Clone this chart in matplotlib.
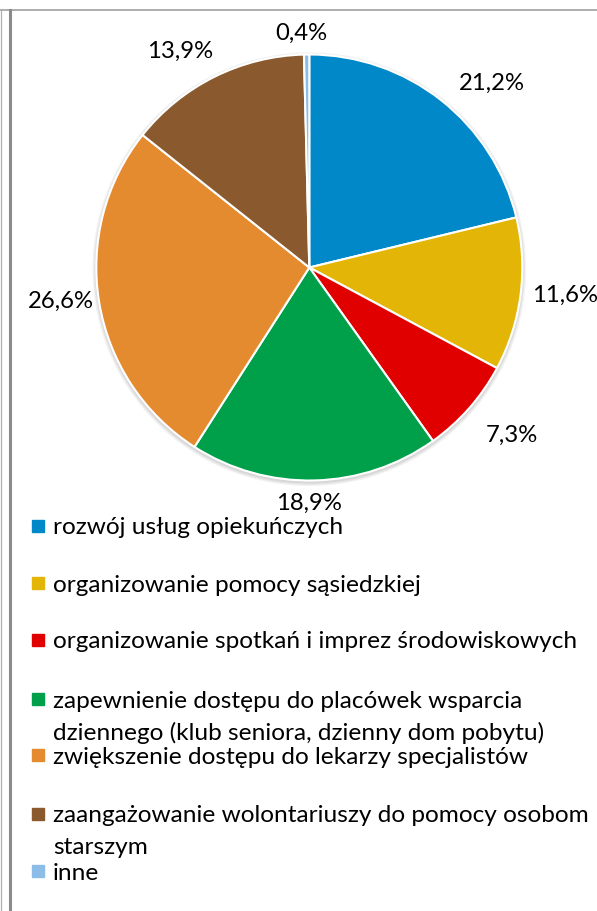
import matplotlib.pyplot as plt
from matplotlib.lines import Line2D
from matplotlib.patches import Rectangle, Circle

plt.rcParams["font.family"] = ["Lato", "DejaVu Sans"]

# ==============================
# Data
# ==============================

categories = [
    "rozwój usług opiekuńczych",
    "organizowanie pomocy sąsiedzkiej",
    "organizowanie spotkań i imprez środowiskowych",
    "zapewnienie dostępu do placówek wsparcia\ndziennego (klub seniora, dzienny dom pobytu)",
    "zwiększenie dostępu do lekarzy specjalistów",
    "zaangażowanie wolontariuszy do pomocy osobom\nstarszym",
    "inne",
]
shares = [21.2, 11.6, 7.3, 18.9, 26.6, 13.9, 0.4]

colors = ["#0088C8", "#E3B507", "#E00000", "#00A04A",
          "#E48A2F", "#8A5A2E", "#8CBDE9"]

# label centres (pie radius = 1)
label_pos = [(0.855, 0.866), (1.200, -0.129), (0.952, -0.786),
             (0.0, -1.106), (-1.166, -0.157), (-0.605, 1.016),
             (-0.037, 1.101)]

# legend rows: y of each entry (pixels from top)
legend_y = [526, 583, 640, 699, 755, 814, 871]
line_step = 32

# ==============================
# Figure
# ==============================

W, H = 597, 911
fig = plt.figure(figsize=(W / 100, H / 100), dpi=100)

cx, cy, r_px = 309.3, 267.5, 213.0
ax_h = 520
ax = fig.add_axes([0, 1 - ax_h / H, 1, ax_h / H])
ax.axis("off")

# soft shadow under the pie
for k, a in enumerate([0.05, 0.05, 0.06]):
    ax.add_patch(Circle((0, -0.008), 1.0 + 0.006 * (3 - k),
                        color="black", alpha=a, lw=0, zorder=0))

wedges, _ = ax.pie(shares, colors=colors, startangle=90, counterclock=False,
                   radius=1.0, center=(0, 0), frame=False,
                   wedgeprops=dict(edgecolor="white", linewidth=1.5))
for w in wedges:
    w.set_zorder(1)
ax.set_xlim(-cx / r_px, (W - cx) / r_px)
ax.set_ylim(-(ax_h - cy) / r_px, cy / r_px)
ax.set_aspect("auto")

for val, (x, y) in zip(shares, label_pos):
    ax.text(x, y, f"{val:.1f}%".replace(".", ","), ha="center", va="center",
            fontsize=17.2, color="black")

# ==============================
# Legend
# ==============================

for lab, col, y in zip(categories, colors, legend_y):
    fig.patches.append(Rectangle((32 / W, 1 - (y + 6) / H), 12 / W, 12 / H,
                                 transform=fig.transFigure, color=col))
    for i, part in enumerate(lab.split("\n")):
        fig.text(53 / W, 1 - (y + i * line_step) / H, part, ha="left",
                 va="center_baseline", fontsize=17.6, color="black")

# ==============================
# Frame lines
# ==============================

fig.lines.append(Line2D([0, 1], [1 - 9.5 / H] * 2, transform=fig.transFigure,
                        color="#a0a0a0", lw=1.2))
fig.lines.append(Line2D([0.6 / W] * 2, [0, 1 - 9.5 / H], transform=fig.transFigure,
                        color="#b0b0b0", lw=0.9))
fig.lines.append(Line2D([9.5 / W] * 2, [0, 1 - 9.5 / H], transform=fig.transFigure,
                        color="#8a8a8a", lw=2.2))

fig.savefig("out.png", dpi=100)
